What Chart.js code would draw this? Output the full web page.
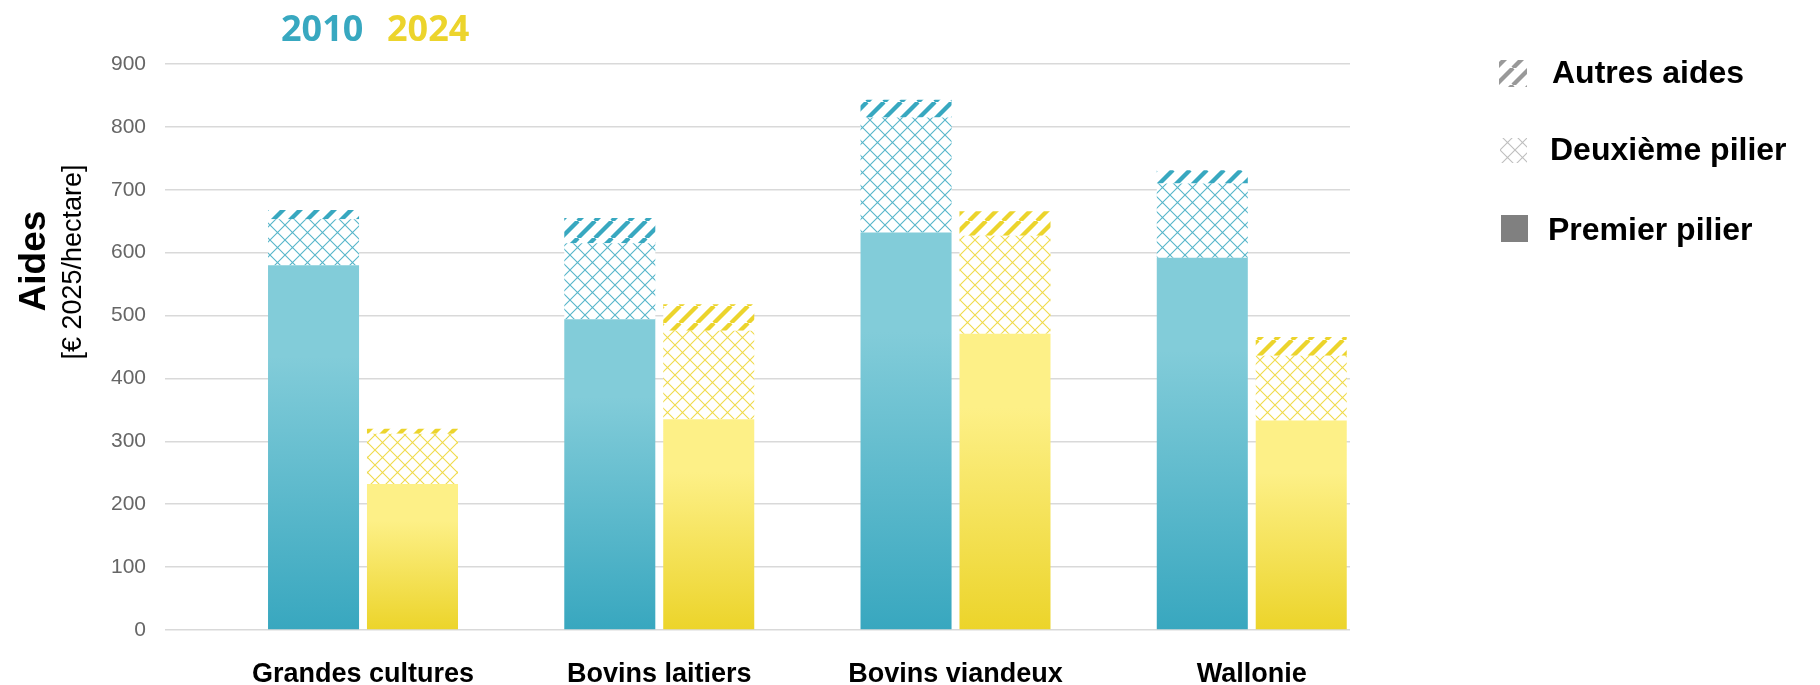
<!DOCTYPE html>
<html>
<head>
<meta charset="utf-8">
<script src="https://cdn.jsdelivr.net/npm/chart.js@4.4.1/dist/chart.umd.min.js"></script>
<style>
  html, body { margin: 0; padding: 0; background: #fff; }
</style>
</head>
<body>
<canvas id="chart" width="1820" height="685"></canvas>
<script>
// categories and values (€ 2025 / hectare)
var categories = ['Grandes cultures', 'Bovins laitiers', 'Bovins viandeux', 'Wallonie'];
var years = ['2010', '2024'];
var premier2010 = [580, 494, 632, 592];
var deuxieme2010 = [73, 121, 183, 118];
var autres2010 = [15, 40, 28, 21];
var premier2024 = [232, 335, 471, 333];
var deuxieme2024 = [80, 141, 156, 103];
var autres2024 = [8, 42, 39, 30];
var legendLabels = ['Autres aides', 'Deuxième pilier', 'Premier pilier'];

var teal = '#38a8c0';
var yellow = '#ecd42c';

var canvas = document.getElementById('chart');
var context = canvas.getContext('2d');

// "/" stripes on white
function stripePattern(color) {
  var s = 17;
  var c = document.createElement('canvas');
  c.width = s; c.height = s;
  var g = c.getContext('2d');
  g.fillStyle = '#fff';
  g.fillRect(0, 0, s, s);
  g.strokeStyle = color;
  g.lineWidth = 4.3;
  g.beginPath();
  [-s, 0, s].forEach(function(o) { g.moveTo(o, s); g.lineTo(o + s, 0); });
  g.stroke();
  return context.createPattern(c, 'repeat');
}

// diamond lattice on white
function latticePattern(color) {
  var s = 15;
  var c = document.createElement('canvas');
  c.width = s; c.height = s;
  var g = c.getContext('2d');
  g.fillStyle = '#fff';
  g.fillRect(0, 0, s, s);
  g.strokeStyle = color;
  g.globalAlpha = 0.85;
  g.lineWidth = 1.1;
  g.beginPath();
  [-s, 0, s].forEach(function(o) {
    g.moveTo(o, 0); g.lineTo(o + s, s);
    g.moveTo(o, s); g.lineTo(o + s, 0);
  });
  g.stroke();
  return context.createPattern(c, 'repeat');
}

// vertical gradient over each bar: light at the top, dark at the base
function gradientFill(light, dark) {
  return function(ctx) {
    var chart = ctx.chart;
    if (!chart.chartArea || ctx.type !== 'data') return dark;
    var y = chart.scales.y;
    var top = y.getPixelForValue(ctx.raw.y);
    var bottom = y.getPixelForValue(0);
    var g = chart.ctx.createLinearGradient(0, top, 0, bottom);
    g.addColorStop(0, light);
    g.addColorStop(0.25, light);
    g.addColorStop(1, dark);
    return g;
  };
}

function points(values) {
  return values.map(function(v, i) { return { x: i, y: v }; });
}

// texts, axis title and legend
var decorations = {
  id: 'decorations',
  afterDraw: function(chart) {
    var c = chart.ctx;
    c.save();
    c.textBaseline = 'alphabetic';
    c.textAlign = 'left';
    c.font = 'bold 36px "Open Sans"';
    c.fillStyle = teal;
    c.fillText(years[0], 281, 41);
    c.fillStyle = yellow;
    c.fillText(years[1], 387, 41);

    c.fillStyle = '#000';
    c.save();
    c.translate(45, 261);
    c.rotate(-Math.PI / 2);
    c.textAlign = 'center';
    c.font = 'bold 37px "Liberation Sans"';
    c.fillText('Aides', 0, 0);
    c.restore();
    c.save();
    c.translate(81, 262);
    c.rotate(-Math.PI / 2);
    c.textAlign = 'center';
    c.font = '27px "Liberation Sans"';
    c.fillText('[€ 2025/hectare]', 0, 0);
    c.restore();

    // legend
    var swatches = [stripePattern('#999999'), latticePattern('#b3b3b3'), '#808080'];
    var boxes = [[1499, 60, 28, 27], [1500, 138, 27, 25], [1501, 215, 27, 27]];
    var textX = [1552, 1550, 1548];
    var baseY = [83, 160, 240];
    c.font = 'bold 32px "Liberation Sans"';
    legendLabels.forEach(function(label, i) {
      c.fillStyle = swatches[i];
      c.fillRect(boxes[i][0], boxes[i][1], boxes[i][2], boxes[i][3]);
      c.fillStyle = '#000';
      c.fillText(label, textX[i], baseY[i]);
    });
    c.restore();
  }
};

var myChart = new Chart(context, {
  type: 'bar',
  data: {
    datasets: [
      { label: 'Premier pilier 2010', data: points(premier2010), stack: '2010', backgroundColor: gradientFill('#82ccd9', '#38a7bf') },
      { label: 'Deuxième pilier 2010', data: points(deuxieme2010), stack: '2010', backgroundColor: latticePattern(teal) },
      { label: 'Autres aides 2010', data: points(autres2010), stack: '2010', backgroundColor: stripePattern(teal) },
      { label: 'Premier pilier 2024', data: points(premier2024), stack: '2024', backgroundColor: gradientFill('#fdf087', '#ecd42a') },
      { label: 'Deuxième pilier 2024', data: points(deuxieme2024), stack: '2024', backgroundColor: latticePattern(yellow) },
      { label: 'Autres aides 2024', data: points(autres2024), stack: '2024', backgroundColor: stripePattern(yellow) }
    ]
  },
  options: {
    responsive: false,
    animation: false,
    events: [],
    categoryPercentage: 0.668,
    barPercentage: 0.92,
    layout: { padding: { left: 0, right: 470, top: 64, bottom: 0 } },
    plugins: {
      legend: { display: false },
      tooltip: { enabled: false }
    },
    scales: {
      x: {
        type: 'linear',
        stacked: true,
        offset: false,
        min: -0.6684,
        max: 3.3316,
        grid: { display: false },
        border: { display: false },
        afterBuildTicks: function(scale) {
          scale.ticks = categories.map(function(c, i) { return { value: i }; });
        },
        afterFit: function(scale) { scale.height = 55; },
        ticks: {
          autoSkip: false,
          maxRotation: 0,
          padding: 20,
          color: '#000',
          font: { family: 'Liberation Sans', size: 27, weight: 'bold' },
          callback: function(v) { return categories[v]; }
        }
      },
      y: {
        stacked: true,
        min: 0,
        max: 900,
        afterFit: function(scale) { scale.width = 165; },
        grid: { color: '#d9d9d9', lineWidth: 1.5, drawTicks: false },
        border: { display: false },
        ticks: {
          stepSize: 100,
          padding: 19,
          color: '#666',
          font: { family: 'Liberation Sans', size: 21 }
        }
      }
    }
  },
  plugins: [decorations]
});
</script>
</body>
</html>
